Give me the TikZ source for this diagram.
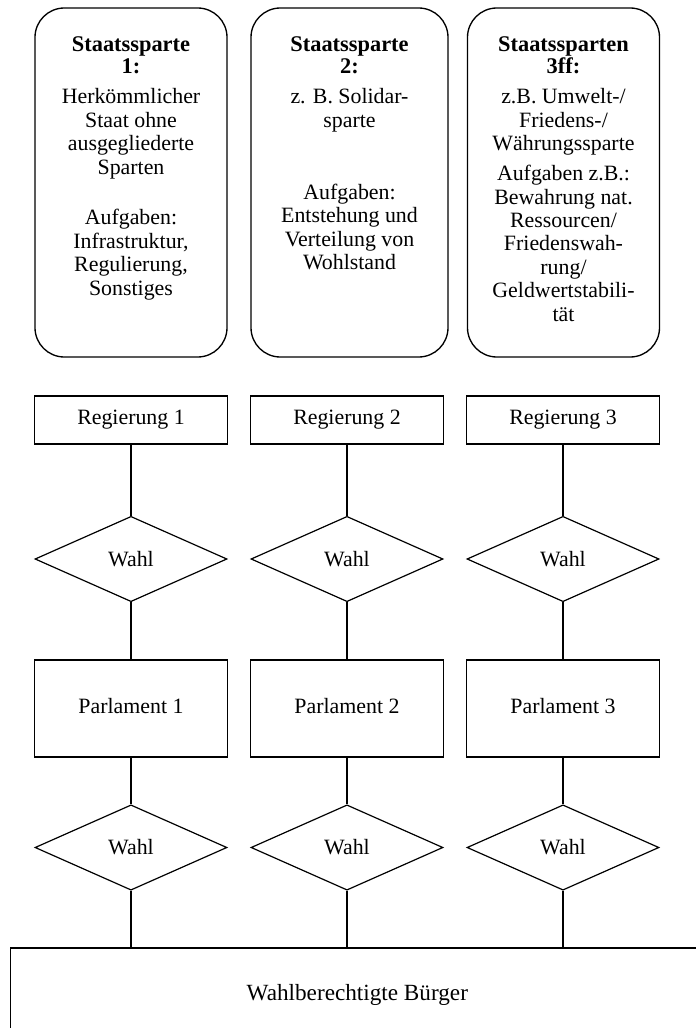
\documentclass[tikz,border=0pt]{standalone}
\usepackage{fontspec}
\setmainfont{Liberation Serif}
\usetikzlibrary{shapes.geometric}
\begin{document}
\begin{tikzpicture}[x=0.75pt,y=-0.75pt,
  every node/.style={font=\fontsize{16.4}{17.6}\selectfont},
  sparte/.style={draw, line width=1pt, rounded corners=22pt, minimum width=144pt, minimum height=261.75pt, inner sep=0pt},
  sptext/.style={anchor=north, align=center, inner sep=0pt},
  regbox/.style={draw, line width=0.9pt, minimum width=144.75pt, minimum height=36pt, inner sep=0pt},
  parlbox/.style={draw, line width=0.9pt, minimum width=144.75pt, minimum height=72.75pt, inner sep=0pt},
  wahl/.style={draw, diamond, line width=0.9pt, minimum width=144pt, minimum height=64pt, inner sep=0pt},
  conn/.style={line width=0.9pt}]
\useasboundingbox (0,0) rectangle (696,1028);
\clip (0,0) rectangle (696,1028);
\newcommand{\ttl}[1]{{\fontsize{16.8}{17.6}\selectfont\bfseries #1}}
% Staatssparten
\node[sparte] (s1) at (131,182.5) {};
\node[sparte, minimum width=147.75pt] (s2) at (349.5,182.5) {};
\node[sparte] (s3) at (563.5,182.5) {};
\node[sptext] (t1) at (131,36.5) {\ttl{Staatssparte}\\[-1.1pt]\ttl{1:}\\[4.9pt]Herkömmlicher\\Staat ohne\\ausgegliederte\\Sparten\\[20.6pt]Aufgaben:\\Infrastruktur,\\Regulierung,\\Sonstiges};
\node[sptext] (t2) at (349.5,36.5) {\ttl{Staatssparte}\\[-1.1pt]\ttl{2:}\\[4.9pt]z. B. Solidar-\\sparte\\[36.4pt]Aufgaben:\\Entstehung und\\Verteilung von\\Wohlstand};
\node[sptext] (t3) at (563.5,36.5) {\ttl{Staatssparten}\\[-1.1pt]\ttl{3ff:}\\[4.9pt]z.B. Umwelt-/\\Friedens-/\\Währungssparte\\[4.9pt]Aufgaben z.B.:\\Bewahrung nat.\\Ressourcen/\\Friedenswah-\\rung/\\Geldwertstabili-\\tät};
% Columns
\foreach \i/\x in {1/131,2/347,3/563} {
  \node[regbox] (r\i) at (\x,420) {Regierung \i};
  \node[wahl] (w\i) at (\x,559) {Wahl};
  \node[parlbox] (p\i) at (\x,708.5) {\raisebox{4pt}{Parlament \i}};
  \node[wahl] (v\i) at (\x,847.5) {Wahl};
}
\node[draw, line width=0.9pt, minimum width=520pt, minimum height=70.5pt, inner sep=0pt, font=\fontsize{17.4}{18}\selectfont] (b) at (357.35,995) {Wahlberechtigte Bürger};
\foreach \i in {1,2,3} {
  \draw[conn] (r\i) -- (w\i);
  \draw[conn] (w\i) -- (p\i);
  \draw[conn] (p\i) -- (v\i);
  \draw[conn] (v\i.south) -- (v\i.south |- b.north);
}
\end{tikzpicture}
\end{document}
